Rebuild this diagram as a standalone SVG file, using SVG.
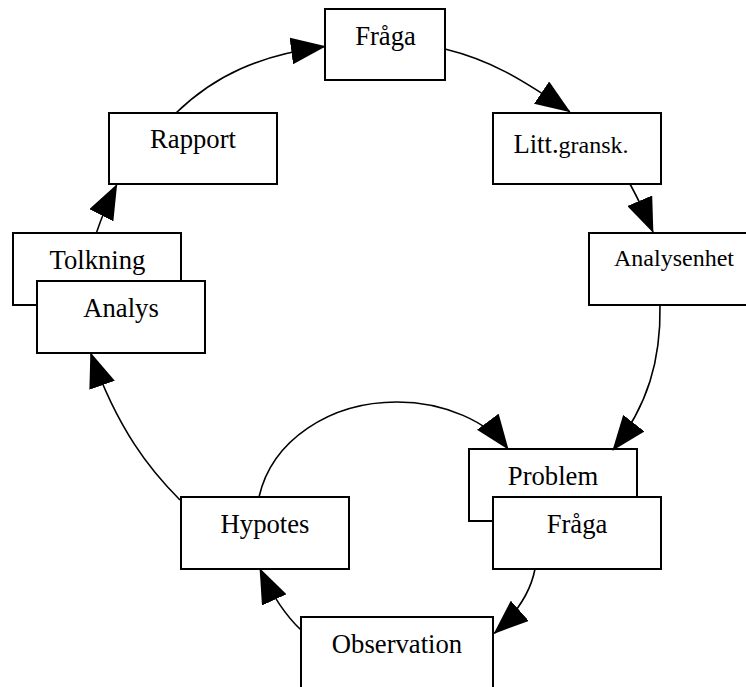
<svg xmlns="http://www.w3.org/2000/svg" width="746" height="687" viewBox="0 0 746 687">
<style>
  .box { fill: #ffffff; stroke: #000000; stroke-width: 2; }
  .lbl { font-family: "Liberation Serif", "Times New Roman", serif; font-size: 26.67px; fill: #000000; text-anchor: middle; }
  .sm { font-size: 24px; }
  .edge { fill: none; stroke: #000000; stroke-width: 1.6; marker-end: url(#arrow); }
</style>
<defs>
  <marker id="arrow" markerUnits="userSpaceOnUse" markerWidth="35" markerHeight="27" viewBox="0 0 35 27" refX="34" refY="13.5" orient="auto">
    <path d="M0,0 L35,13.5 L0,27 Z" fill="#000000"/>
  </marker>
</defs>
<rect width="746" height="687" fill="#ffffff"/>
<g id="nodes">
  <g id="n-fraga1"><rect class="box" x="325" y="9" width="120" height="71"/><text class="lbl" x="385.5" y="45">Fråga</text></g>
  <g id="n-rapport"><rect class="box" x="109" y="113" width="168" height="71"/><text class="lbl" x="193" y="148">Rapport</text></g>
  <g id="n-litt"><rect class="box" x="493" y="113" width="168" height="71"/><text class="lbl" x="571" y="153">Litt.<tspan class="sm">gransk.</tspan></text></g>
  <g id="n-analysenhet"><rect class="box" x="589" y="233" width="170" height="72"/><text class="lbl sm" x="674" y="266">Analysenhet</text></g>
  <g id="n-tolkning"><rect class="box" x="13" y="233" width="168" height="72"/><text class="lbl" x="97.5" y="269">Tolkning</text></g>
  <g id="n-analys"><rect class="box" x="37" y="281" width="168" height="72"/><text class="lbl" x="121" y="317">Analys</text></g>
  <g id="n-problem"><rect class="box" x="469" y="449" width="168" height="72"/><text class="lbl" x="553" y="485">Problem</text></g>
  <g id="n-fraga2"><rect class="box" x="493" y="497" width="168" height="72"/><text class="lbl" x="577" y="533">Fråga</text></g>
  <g id="n-hypotes"><rect class="box" x="181" y="497" width="168" height="72"/><text class="lbl" x="265" y="533">Hypotes</text></g>
  <g id="n-observation"><rect class="box" x="301" y="617" width="192" height="73"/><text class="lbl" x="397" y="653">Observation</text></g>
</g>
<g id="connectors">
  <path class="edge" d="M176,113 C215,75 260,55 325,46.5"/>
  <path class="edge" d="M445,49 C490,60 520,78 569.7,111.7"/>
  <path class="edge" d="M630,184 Q642,206 653,232"/>
  <path class="edge" d="M660,305 C661,360 648,405 613,450"/>
  <path class="edge" d="M259,497 C272,440 330,402 397,402 C445,402 488,422 508,449"/>
  <path class="edge" d="M535,569 C530,595 515,615 494.3,633.3"/>
  <path class="edge" d="M301,630 C285,615 272,595 260,569"/>
  <path class="edge" d="M180,500 C150,470 118,430 90.7,353.3"/>
  <path class="edge" d="M96.7,232 Q104,210 116.7,185"/>
</g>
</svg>
